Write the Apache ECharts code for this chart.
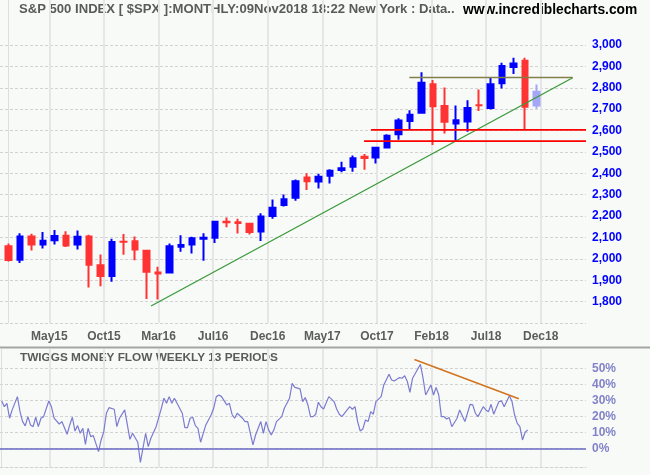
<!DOCTYPE html>
<html><head><meta charset="utf-8">
<script src="https://cdn.jsdelivr.net/npm/echarts@6/dist/echarts.min.js"></script>
<style>html,body{margin:0;padding:0;background:#f8faf8}#c{width:650px;height:475px}</style>
</head><body><div id="c"></div>
<script>
// Monthly candles Jan 2015 .. Nov 2018
const months = ['Jan15','Feb15','Mar15','Apr15','May15','Jun15','Jul15','Aug15','Sep15','Oct15','Nov15','Dec15',
  'Jan16','Feb16','Mar16','Apr16','May16','Jun16','Jul16','Aug16','Sep16','Oct16','Nov16','Dec16',
  'Jan17','Feb17','Mar17','Apr17','May17','Jun17','Jul17','Aug17','Sep17','Oct17','Nov17','Dec17',
  'Jan18','Feb18','Mar18','Apr18','May18','Jun18','Jul18','Aug18','Sep18','Oct18','Nov18'];
const opens  = [2058.9,1996.7,2105.2,2067.6,2087.4,2108.6,2067.0,2104.5,1970.1,1919.7,2080.8,2082.9,
  2038.2,1936.9,1937.1,2056.6,2067.2,2093.9,2099.3,2173.2,2171.3,2164.3,2128.7,2200.2,
  2251.6,2285.6,2380.1,2362.3,2388.5,2415.7,2431.4,2477.1,2474.4,2521.2,2583.2,2645.1,
  2683.7,2816.5,2715.2,2633.5,2643.0,2718.7,2705.0,2821.2,2897.0,2926.3,2717.6];
const highs  = [2072.4,2119.6,2117.5,2125.9,2134.7,2129.9,2132.8,2112.7,2020.9,2094.3,2116.5,2104.3,
  2038.2,1963.0,2072.2,2111.1,2103.5,2120.6,2177.1,2193.8,2187.9,2169.6,2214.1,2277.5,
  2301.0,2371.5,2401.0,2398.2,2418.7,2453.8,2484.0,2490.9,2519.4,2583.0,2657.7,2695.0,
  2872.9,2836.0,2801.9,2717.5,2742.2,2791.5,2848.0,2916.5,2940.9,2939.9,2815.2];
const lows   = [1988.1,1980.9,2039.7,2048.4,2067.9,2056.3,2044.0,1867.0,1871.9,1893.7,2019.4,1993.3,
  1812.3,1810.1,1937.1,2033.8,2025.9,1991.7,2074.0,2147.6,2119.1,2114.7,2083.8,2187.4,
  2245.1,2271.7,2322.3,2329.0,2352.7,2405.7,2407.7,2417.4,2446.6,2520.4,2557.5,2605.5,
  2682.4,2532.7,2585.9,2553.8,2594.6,2692.0,2699.0,2796.3,2864.1,2603.5,2702.0];
const closes = [1995.0,2104.5,2067.9,2085.5,2107.4,2063.1,2103.8,1972.2,1920.0,2079.4,2080.4,2043.9,
  1940.2,1932.2,2059.7,2065.3,2097.0,2098.9,2173.6,2171.0,2168.3,2126.2,2198.8,2238.8,
  2278.9,2363.6,2362.7,2384.2,2411.8,2423.4,2470.3,2471.7,2519.4,2575.3,2647.6,2673.6,
  2823.8,2713.8,2640.9,2648.1,2705.3,2718.4,2816.3,2901.5,2914.0,2711.7,2781.0];

// x grid / label positions (in month index units) and their labels
const xTickPos = [3.54, 8.30, 13.06, 17.82, 22.58, 27.34, 32.10, 36.86, 41.62, 46.38];
const xTickLabels = ['May15','Oct15','Mar16','Jul16','Dec16','May17','Oct17','Feb18','Jul18','Dec18'];
const priceGrid = [1700,1800,1900,2000,2100,2200,2300,2400,2500,2600,2700,2800,2900,3000];
const priceLabels = [1800,1900,2000,2100,2200,2300,2400,2500,2600,2700,2800,2900,3000];
const mfTicks = [0,10,20,30,40,50];

// Twiggs Money Flow (weekly, 13 periods): week index and value (%)
const mfWeeks = [0,1,2,3,4,6,7,8,9,10,11,12,13,14,15,16,18,19,20,22,23,25,26,27,28,29,30,31,32,33,34,35,37,38,39,40,41,43,44,45,47,49,50,52,53,55,56,57,59,61,62,63,64,65,66,67,69,70,71,72,73,74,75,76,78,80,81,82,83,84,86,87,88,89,90,92,93,94,96,97,99,100,101,102,103,104,105,107,108,110,111,112,114,115,116,117,118,119,120,121,122,123,125,127,128,129,130,132,133,134,135,136,137,138,139,140,141,142,143,145,146,148,149,150,152,153,154,155,156,157,160,161,162,164,165,166,167,168,169,170,171,172,174,175,177,179,180,181,182,184,185,186,187,188,190,191,192,194,195,196,197,198,199,200,201];
const mfValues = [29.6,26,28.1,18.8,24,32.3,22.9,16.7,14,19.8,14.6,13.5,19.4,13.5,18.8,19.8,29.6,26,18.8,15.2,16.7,8.8,14.6,19.4,10.8,14.2,9.4,12.5,2.5,12.5,7.3,7.9,-2.1,5.2,10.4,21.9,25.4,24.4,13.5,18.8,24,5.6,9.4,3.8,-8.8,9.4,1.0,6.3,13.5,25,31.3,28.1,32.3,28.1,31.3,28.1,21.9,12.9,12.9,18.8,19.4,14.2,12.5,3.8,14.6,20.8,25,32.3,33.3,32.3,27.1,28.1,21.3,18.8,21.9,18.8,16.7,16.7,2.1,8.3,16.7,9.4,16.7,11.5,8.3,11.5,16.7,19.8,25,31.3,40.6,38.1,37.1,29.2,31.7,27.1,19.8,19.8,21.3,28.8,26,24.6,32.3,29.2,24.6,21.3,19.8,24,26,24.4,26,16.7,10.8,12.1,17.7,16.7,22.9,21.3,29.2,32.3,39.6,46.3,42.7,42.1,44.2,43.8,45.4,41.7,35,43.8,52.5,43.8,33.3,39.6,33.3,38.1,33.3,19.8,19.8,18.3,19.2,13.5,18.8,24,16.7,27.5,27.1,21.9,19.8,26,24,22.9,27.5,21.3,29.2,29.6,26,32.9,29.2,20.8,15.6,13.5,5.2,10,11.5];

// Drawn trend lines (month index, price) and (week, %)
const supportLine = [[12.41,1780],[49.17,2847]];
const resistanceLine = [[34.93,2848],[49.17,2848]];
const redLineHigh = [[31.59,2603],[50.33,2603]];
const redLineLow = [[30.98,2551],[50.33,2551]];
const mfTrend = [[157.7,55.5],[197.6,31]];

const FONT = 'Liberation Sans, Arial, sans-serif';
const candleData = months.map((m, i) => {
  const item = { value: [i, opens[i], closes[i], lows[i], highs[i]] };
  if (i === months.length - 1) item.itemStyle = { color: '#a6a6f8', borderColor: '#a6a6f8' };
  return item;
});
function nearestIdx(v) {
  let b = 0; for (let i = 1; i < xTickPos.length; i++) if (Math.abs(xTickPos[i]-v) < Math.abs(xTickPos[b]-v)) b = i; return b;
}
const vGrid = { show: true, lineStyle: { color: '#e6e6e6', width: 2, type: 'solid' } };
const hGrid = { show: true, lineStyle: { color: '#d2d2d2', width: 1, type: [3, 2] } };

const chart = echarts.init(document.getElementById('c'), null, { renderer: 'canvas' });
chart.setOption({
  animation: false,
  backgroundColor: '#f8faf8',
  grid: [
    { left: 0, right: 64, top: 0, height: 323.1 },
    { left: 0, right: 64, top: 349, height: 118 }
  ],
  xAxis: [
    { type: 'value', gridIndex: 0, min: -0.7585, max: 50.33, position: 'bottom',
      axisLine: { show: false }, axisTick: { show: false, customValues: xTickPos },
      axisLabel: { customValues: xTickPos, margin: 8, color: '#5c5c5c', fontFamily: FONT, fontWeight: 'bold', fontSize: 12,
        formatter: v => xTickLabels[nearestIdx(v)] },
      splitLine: vGrid },
    { type: 'value', gridIndex: 1, min: -0.65, max: 223.27, show: false },
    { type: 'value', gridIndex: 1, min: -0.7585, max: 50.33, position: 'bottom',
      axisLine: { show: true, lineStyle: { color: '#d2d2d2', type: [3, 2] } },
      axisTick: { show: false, customValues: xTickPos }, axisLabel: { show: false }, splitLine: vGrid }
  ],
  yAxis: [
    { type: 'value', gridIndex: 0, position: 'right', min: 1700, max: 3210.4,
      axisLine: { show: true, lineStyle: { color: '#dedede', width: 1 } },
      axisTick: { show: false, customValues: priceGrid },
      axisLabel: { customValues: priceLabels, margin: 6, color: '#0000ff', fontFamily: FONT, fontWeight: 'bold', fontSize: 12,
        formatter: v => v.toLocaleString('en-US') },
      splitLine: hGrid },
    { type: 'value', gridIndex: 1, position: 'right', min: -11.69, max: 62.06,
      axisLine: { show: true, lineStyle: { color: '#dedede', width: 1 } },
      axisTick: { show: false, customValues: mfTicks },
      axisLabel: { customValues: mfTicks, margin: 6, color: '#8282c8', fontFamily: FONT, fontWeight: 'bold', fontSize: 12,
        formatter: v => v + '%' },
      splitLine: hGrid }
  ],
  series: [
    { type: 'candlestick', xAxisIndex: 0, yAxisIndex: 0, barWidth: 6, data: candleData, silent: true,
      itemStyle: { color: '#0000ff', color0: '#ff3333', borderColor: '#0000ff', borderColor0: '#ff3333', borderWidth: 2 } },
    { type: 'line', xAxisIndex: 0, yAxisIndex: 0, data: supportLine, symbol: 'none', silent: true, z: 5,
      lineStyle: { color: '#3a9a3a', width: 1.3 } },
    { type: 'line', xAxisIndex: 0, yAxisIndex: 0, data: resistanceLine, symbol: 'none', silent: true, z: 5,
      lineStyle: { color: '#808048', width: 1.6 } },
    { type: 'line', xAxisIndex: 0, yAxisIndex: 0, data: redLineHigh, symbol: 'none', silent: true, z: 5,
      lineStyle: { color: '#ff0000', width: 1.8 } },
    { type: 'line', xAxisIndex: 0, yAxisIndex: 0, data: redLineLow, symbol: 'none', silent: true, z: 5,
      lineStyle: { color: '#ff0000', width: 1.8 } },
    { type: 'line', xAxisIndex: 1, yAxisIndex: 1, data: mfWeeks.map((w, i) => [w, mfValues[i]]), symbol: 'none', silent: true,
      lineStyle: { color: '#7b7bd0', width: 1.2 },
      markLine: { silent: true, symbol: 'none', label: { show: false }, animation: false,
        lineStyle: { color: '#6a6ac4', width: 1.5, type: 'solid' }, data: [{ yAxis: 0 }] } },
    { type: 'line', xAxisIndex: 1, yAxisIndex: 1, data: mfTrend, symbol: 'none', silent: true, z: 5,
      lineStyle: { color: '#d2731e', width: 1.5 } }
  ],
  graphic: [
    { type: 'rect', left: 0, top: 346.5, shape: { width: 650, height: 2 }, style: { fill: '#a4a4a4' }, silent: true },
    { type: 'text', left: 19, top: 3, silent: true,
      style: { text: 'S&P 500 INDEX [ $SPX ]:MONTHLY:09Nov2018 18:22 New York : Data..', font: 'bold 13.1px ' + FONT, fill: '#5a5a5a' } },
    { type: 'text', left: 463, top: 3, silent: true,
      style: { text: 'www.incrediblecharts.com', font: 'bold 13.8px ' + FONT, fill: '#000000' } },
    { type: 'text', left: 20, top: 352, silent: true,
      style: { text: 'TWIGGS MONEY FLOW WEEKLY 13 PERIODS', font: 'bold 11.8px ' + FONT, fill: '#5a5a5a' } }
  ]
});
</script></body></html>
